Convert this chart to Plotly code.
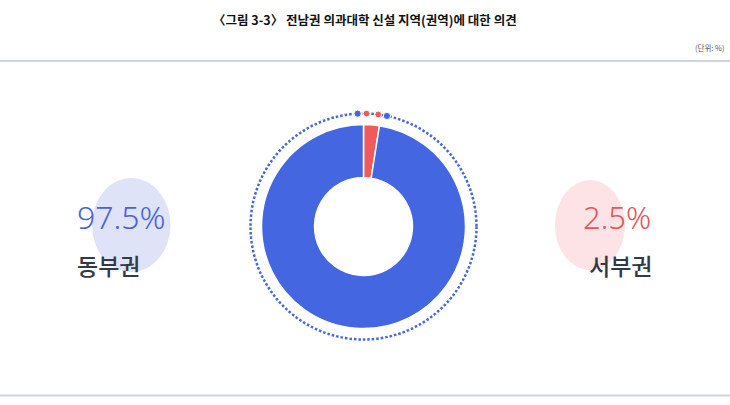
import math
import plotly.graph_objects as go

# ---- data ----
regions = ["동부권", "서부권"]
shares = [97.5, 2.5]
share_labels = ["97.5%", "2.5%"]
title_text = "〈그림 3-3〉 전남권 의과대학 신설 지역(권역)에 대한 의견"
unit_text = "(단위: %)"

BLUE = "#4466e0"
RED = "#f05a5a"
colors = [BLUE, RED]

W, H = 730, 405


def px(x):
    return x / W


def py(y):
    return 1 - y / H


cx, cy, r = 363.5, 226.5, 102

fig = go.Figure()
fig.add_trace(go.Pie(
    labels=regions[::-1],
    values=shares[::-1],
    sort=False,
    direction="clockwise",
    rotation=0,
    hole=0.48,
    marker=dict(colors=colors[::-1], line=dict(color="white", width=1.5)),
    textinfo="none",
    hoverinfo="label+percent",
    showlegend=False,
    domain=dict(x=[px(cx - r), px(cx + r)], y=[py(cy + r), py(cy - r)]),
))

shapes = []
# horizontal rules
for yy in (61, 395.5):
    shapes.append(dict(type="line", xref="paper", yref="paper", x0=0, x1=1,
                       y0=py(yy), y1=py(yy), line=dict(color="#cdd6dc", width=2), layer="below"))
# background ellipses
shapes.append(dict(type="circle", xref="paper", yref="paper", x0=px(92), x1=px(170.5),
                   y0=py(272), y1=py(178), fillcolor="#dfe3f8", line=dict(width=0), layer="below"))
shapes.append(dict(type="circle", xref="paper", yref="paper", x0=px(555), x1=px(625),
                   y0=py(270), y1=py(180), fillcolor="#fde3e5", line=dict(width=0), layer="below"))
# dotted ring
R = 113
shapes.append(dict(type="circle", xref="paper", yref="paper", x0=px(cx - R), x1=px(cx + R),
                   y0=py(cy + R), y1=py(cy - R), line=dict(color=BLUE, width=2.5, dash="2.5px,2px")))
# accent dots on the ring around the small slice
small_angle = shares[1] / sum(shares) * 360
for frac, col, rad in ((-0.33, BLUE, 3.6), (0.17, RED, 3.4), (0.83, RED, 3.4), (1.33, BLUE, 3.6)):
    th = math.radians(frac * small_angle)
    dx, dy = cx + R * math.sin(th), cy - R * math.cos(th)
    shapes.append(dict(type="circle", xref="paper", yref="paper",
                       x0=px(dx - rad), x1=px(dx + rad), y0=py(dy + rad), y1=py(dy - rad),
                       fillcolor=col, line=dict(color="white", width=1)))


def ann(text, x, y, font, xanchor="center"):
    return dict(text=text, x=px(x), y=py(y), xref="paper", yref="paper",
                xanchor=xanchor, yanchor="middle", showarrow=False, font=font)


annotations = [
    ann(f"<b>{title_text}</b>", 365, 19, dict(family="Noto Sans CJK KR", size=12.5, color="#111111")),
    ann(unit_text, 727, 48, dict(family="Noto Sans CJK KR", size=7.5, color="#555555"), xanchor="right"),
    ann(share_labels[0], 121.5, 216.5, dict(family="Noto Sans", size=32, color="#4a63d6", weight=300)),
    ann(share_labels[1], 616.5, 216.5, dict(family="Noto Sans", size=31, color="#e0585a", weight=300)),
    ann(regions[0], 108.5, 264.5, dict(family="Noto Sans CJK KR", size=23, color="#333a45", weight=500)),
    ann(regions[1], 620, 264.5, dict(family="Noto Sans CJK KR", size=23, color="#333a45", weight=500)),
]

fig.update_layout(
    width=W, height=H,
    margin=dict(l=0, r=0, t=0, b=0),
    paper_bgcolor="white", plot_bgcolor="white",
    shapes=shapes, annotations=annotations,
)

fig.write_html("out.html", config={"displayModeBar": False},
               post_script="document.body.style.margin='0px';")
